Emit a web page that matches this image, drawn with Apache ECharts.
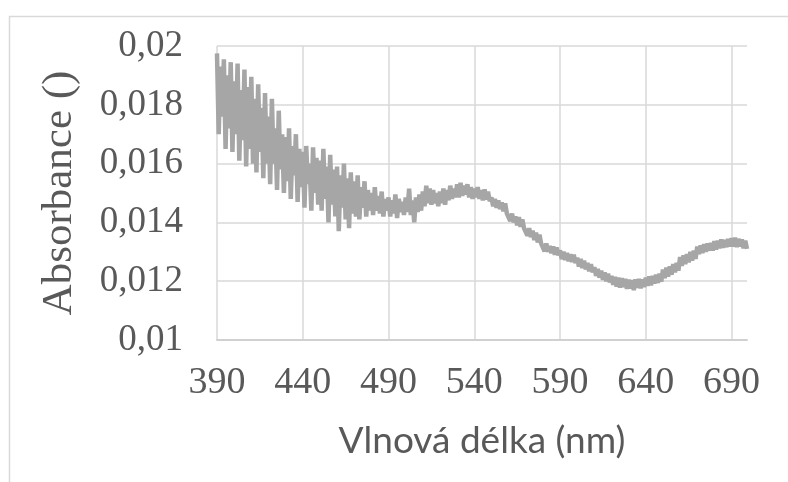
<!DOCTYPE html>
<html>
<head>
<meta charset="utf-8">
<script src="https://cdn.jsdelivr.net/npm/echarts@6/dist/echarts.min.js"></script>
<style>
html,body{margin:0;padding:0;background:#fff;}
#chart{width:788px;height:482px;}
</style>
</head>
<body>
<div id="chart"></div>
<script>
// Wavelength start (nm) and step
const startNm = 390;
const stepNm = 1;
// Absorbance values, one per nm from 390 to 699
const absorbance = [
  0.01975,0.01700,0.01930,0.01760,0.01955,0.01650,0.01900,0.01720,0.01945,0.01640,
  0.01880,0.01700,0.01940,0.01610,0.01850,0.01680,0.01920,0.01590,0.01860,0.01650,
  0.01895,0.01600,0.01820,0.01570,0.01870,0.01640,0.01790,0.01550,0.01840,0.01600,
  0.01760,0.01530,0.01820,0.01600,0.01720,0.01510,0.01780,0.01580,0.01700,0.01500,
  0.01690,0.01540,0.01720,0.01480,0.01660,0.01560,0.01700,0.01470,0.01650,0.01520,
  0.01640,0.01450,0.01660,0.01530,0.01600,0.01440,0.01655,0.01500,0.01620,0.01460,
  0.01610,0.01440,0.01650,0.01480,0.01590,0.01400,0.01630,0.01460,0.01580,0.01420,
  0.01590,0.01370,0.01560,0.01450,0.01600,0.01410,0.01550,0.01380,0.01570,0.01430,
  0.01540,0.01420,0.01560,0.01410,0.01520,0.01450,0.01540,0.01420,0.01510,0.01440,
  0.01500,0.01425,0.01520,0.01440,0.01490,0.01430,0.01505,0.01420,0.01480,0.01440,
  0.01485,0.01420,0.01475,0.01430,0.01495,0.01415,0.01480,0.01435,0.01470,0.01425,
  0.01485,0.01435,0.01515,0.01425,0.01475,0.01400,0.01485,0.01435,0.01495,0.01440,
  0.01505,0.01455,0.01525,0.01465,0.01515,0.01460,0.01510,0.01465,0.01500,0.01455,
  0.01505,0.01465,0.01515,0.01460,0.01510,0.01475,0.01525,0.01480,0.01515,0.01485,
  0.01530,0.01485,0.01535,0.01490,0.01525,0.01495,0.01530,0.01485,0.01520,0.01480,
  0.01515,0.01485,0.01520,0.01480,0.01510,0.01475,0.01512,0.01478,0.01505,0.01472,
  0.01485,0.01455,0.01480,0.01450,0.01475,0.01445,0.01468,0.01438,0.01465,0.01430,
  0.01435,0.01405,0.01430,0.01400,0.01420,0.01390,0.01418,0.01385,0.01410,0.01380,
  0.01385,0.01355,0.01380,0.01350,0.01372,0.01340,0.01365,0.01332,0.01358,0.01328,
  0.01332,0.01302,0.01328,0.01300,0.01320,0.01295,0.01318,0.01290,0.01315,0.01288,
  0.01305,0.01275,0.01300,0.01272,0.01296,0.01268,0.01292,0.01265,0.01290,0.01262,
  0.01280,0.01250,0.01276,0.01245,0.01270,0.01240,0.01262,0.01234,0.01258,0.01230,
  0.01248,0.01218,0.01242,0.01212,0.01236,0.01205,0.01230,0.01200,0.01226,0.01196,
  0.01218,0.01188,0.01215,0.01182,0.01212,0.01178,0.01210,0.01180,0.01208,0.01174,
  0.01205,0.01175,0.01204,0.01170,0.01206,0.01178,0.01208,0.01176,0.01206,0.01180,
  0.01212,0.01184,0.01216,0.01186,0.01218,0.01192,0.01222,0.01194,0.01226,0.01198,
  0.01240,0.01210,0.01246,0.01216,0.01250,0.01222,0.01258,0.01230,0.01262,0.01236,
  0.01282,0.01252,0.01288,0.01258,0.01292,0.01264,0.01300,0.01270,0.01304,0.01276,
  0.01318,0.01292,0.01322,0.01296,0.01326,0.01300,0.01328,0.01304,0.01330,0.01304,
  0.01336,0.01308,0.01338,0.01312,0.01342,0.01314,0.01340,0.01316,0.01344,0.01318,
  0.01346,0.01318,0.01348,0.01316,0.01344,0.01318,0.01342,0.01312,0.01338,0.01310
];
// Axis settings
const xMin = 390, xMax = 699, xInterval = 50;
const yMin = 0.01, yMax = 0.02, yInterval = 0.002;
const xTitle = 'Vlnová délka (nm)';
const yTitle = 'Absorbance ()';

const seriesData = absorbance.map((v, i) => [startNm + i * stepNm, v]);

const chart = echarts.init(document.getElementById('chart'), null, {renderer: 'canvas'});
chart.setOption({
  animation: false,
  backgroundColor: '#ffffff',
  graphic: [{
    type: 'rect', left: 7, top: 14,
    shape: {width: 900, height: 600},
    style: {fill: 'none', stroke: '#d9d9d9', lineWidth: 1.5},
    silent: true
  }],
  grid: {left: 217, right: 41, top: 46, bottom: 142, containLabel: false},
  xAxis: {
    type: 'value', min: xMin, max: xMax, interval: xInterval,
    name: xTitle, nameLocation: 'middle', nameGap: 83,
    nameTextStyle: {fontFamily: 'Lato', fontSize: 37, color: '#595959'},
    axisLine: {show: true, lineStyle: {color: '#d0d0d0', width: 2}},
    axisTick: {show: false},
    axisLabel: {
      showMaxLabel: false, margin: 24,
      fontFamily: 'Liberation Serif', fontSize: 38, color: '#595959'
    },
    splitLine: {show: true, showMaxLine: false, lineStyle: {color: '#d9d9d9', width: 1.5}}
  },
  yAxis: {
    type: 'value', min: yMin, max: yMax, interval: yInterval,
    name: yTitle, nameLocation: 'middle', nameGap: 136, nameRotate: 90,
    nameTextStyle: {fontFamily: 'Liberation Serif', fontSize: 43, color: '#595959'},
    axisLine: {show: false},
    axisTick: {show: false},
    axisLabel: {
      margin: 34, fontFamily: 'Liberation Serif', fontSize: 37, color: '#595959',
      formatter: v => String(Number(v.toFixed(3))).replace('.', ',')
    },
    splitLine: {show: true, lineStyle: {color: '#d9d9d9', width: 1.5}}
  },
  series: [{
    type: 'line', data: seriesData, showSymbol: false, symbol: 'none',
    lineStyle: {color: '#a6a6a6', width: 4.5},
    clip: true
  }]
});
</script>
</body>
</html>
